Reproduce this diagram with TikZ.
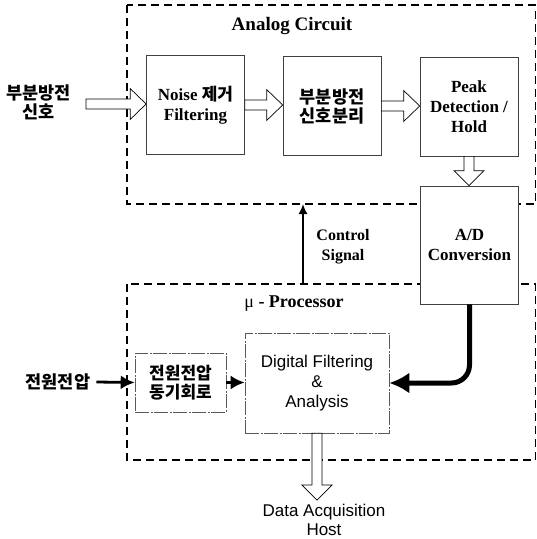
\documentclass[tikz,border=0pt]{standalone}
\usepackage{fontspec}
\setmainfont{Liberation Serif}
\setsansfont{Liberation Sans}
\newfontfamily\kr{Noto Sans CJK KR}
\usetikzlibrary{arrows.meta,calc}

\begin{document}
\begin{tikzpicture}[x=1pt, y=-1pt,
		blk/.style={draw=black!75, line width=0.7pt, fill=white, inner sep=0pt, minimum width=98pt, minimum height=99pt, align=center, font=\fontsize{17}{20}\selectfont\bfseries},
		sub/.style={draw=black!65, line width=0.6pt, dash pattern=on 14pt off 1.5pt on 2pt off 1.5pt},
		grp/.style={draw, line width=1.2pt, dash pattern=on 8pt off 5pt},
		lbl/.style={align=center, inner sep=0pt, font=\fontsize{17}{20}\selectfont\bfseries},
		krlbl/.style={align=center, inner sep=0pt, font=\kr\fontsize{17.5}{19}\selectfont\bfseries},
		hr/.style={fill=white, line width=0.7pt, to path={let \p1=(\tikztostart), \p2=(\tikztotarget) in
			(\x1,\y1+5pt) -- (\x2-16pt,\y1+5pt) -- (\x2-16pt,\y1+15.5pt) -- (\x2,\y1) -- (\x2-16pt,\y1-15.5pt) -- (\x2-16pt,\y1-5pt) -- (\x1,\y1-5pt) -- cycle}},
		hd/.style={fill=white, line width=0.7pt, to path={let \p1=(\tikztostart), \p2=(\tikztotarget) in
			(\x1-5pt,\y1) -- (\x1-5pt,\y2+15pt) -- (\x1-15pt,\y2+15pt) -- (\x1,\y2) -- (\x1+15pt,\y2+15pt) -- (\x1+5pt,\y2+15pt) -- (\x1+5pt,\y1) -- cycle}},
		thin arrow/.style={line width=2.8pt, -{Latex[length=14pt, width=14pt]}}
	]
	\useasboundingbox (0,0) rectangle (537,539);

	% dashed groups
	\draw[grp] (127,5) rectangle (535.5,204);
	\draw[grp] (127,284) rectangle (535.5,460);
	\node[lbl, font=\fontsize{19}{22}\selectfont\bfseries] (atitle) at (292,26) {Analog Circuit};
	\node[lbl, font=\fontsize{18}{22}\selectfont\bfseries] (ptitle) at (294,304) {\textmd{μ} - Processor};

	% analog blocks
	\node[blk] (noise) at (195.5,105) {Noise {\kr 제거}\\Filtering};
	\node[blk, font=\kr\fontsize{17.5}{19}\selectfont\bfseries] (sep) at (332,106) {부분방전\\신호분리};
	\node[blk] (peak) at (469,106.5) {Peak\\Detection /\\Hold};
	\node[blk, minimum height=118pt] (adc) at (469.5,245) {A/D\\Conversion};

	% processor blocks
	\node[blk, sub, minimum width=91pt, minimum height=59pt, font=\kr\fontsize{17}{19}\selectfont\bfseries] (sync) at (180.5,382.5) {전원전압\\동기회로};
	\node[blk, sub, minimum width=144pt, minimum height=100pt, font=\sffamily\fontsize{17}{20}\selectfont] (dsp) at (317,383) {Digital Filtering\\\&\\Analysis};

	% inputs and output
	\node[krlbl] (pdin) at (38.5,102) {부분방전\\신호};
	\coordinate (pdtail) at (86,104);
	\node[krlbl] (vin) at (58,382) {전원전압};
	\coordinate (daqtip) at (317,500);
	\node[lbl, font=\sffamily\fontsize{17}{19}\selectfont] (daq) at (324,520) {Data Acquisition\\Host};

	% control signal
	\node[lbl, font=\fontsize{16}{20}\selectfont\bfseries] (ctl) at (343,247) {Control\\Signal};
	\coordinate (ctlfoot) at (303,284);
	\coordinate (ctlhead) at (303,204);

	% connectors
	\draw[hr] (pdtail) to (noise.west);
	\draw[hr] (noise.east) to (sep.west);
	\draw[hr] (sep.east) to (peak.west);
	\draw[hd] (peak.south) to (adc.north);
	\draw[hd] (dsp.south) to (daqtip);
	\draw[line width=1.6pt, -{Latex[length=10pt, width=9pt]}] (ctlfoot) -- (ctlhead);
	\draw[thin arrow] ([xshift=6pt]vin.east) -- (sync.west);
	\draw[thin arrow] (sync.east) -- (sync.east -| dsp.west);
	\draw[line width=5pt, rounded corners=18pt, -{Latex[length=20pt, width=21pt]}] (adc.south) |- (dsp.east);
\end{tikzpicture}
\end{document}
